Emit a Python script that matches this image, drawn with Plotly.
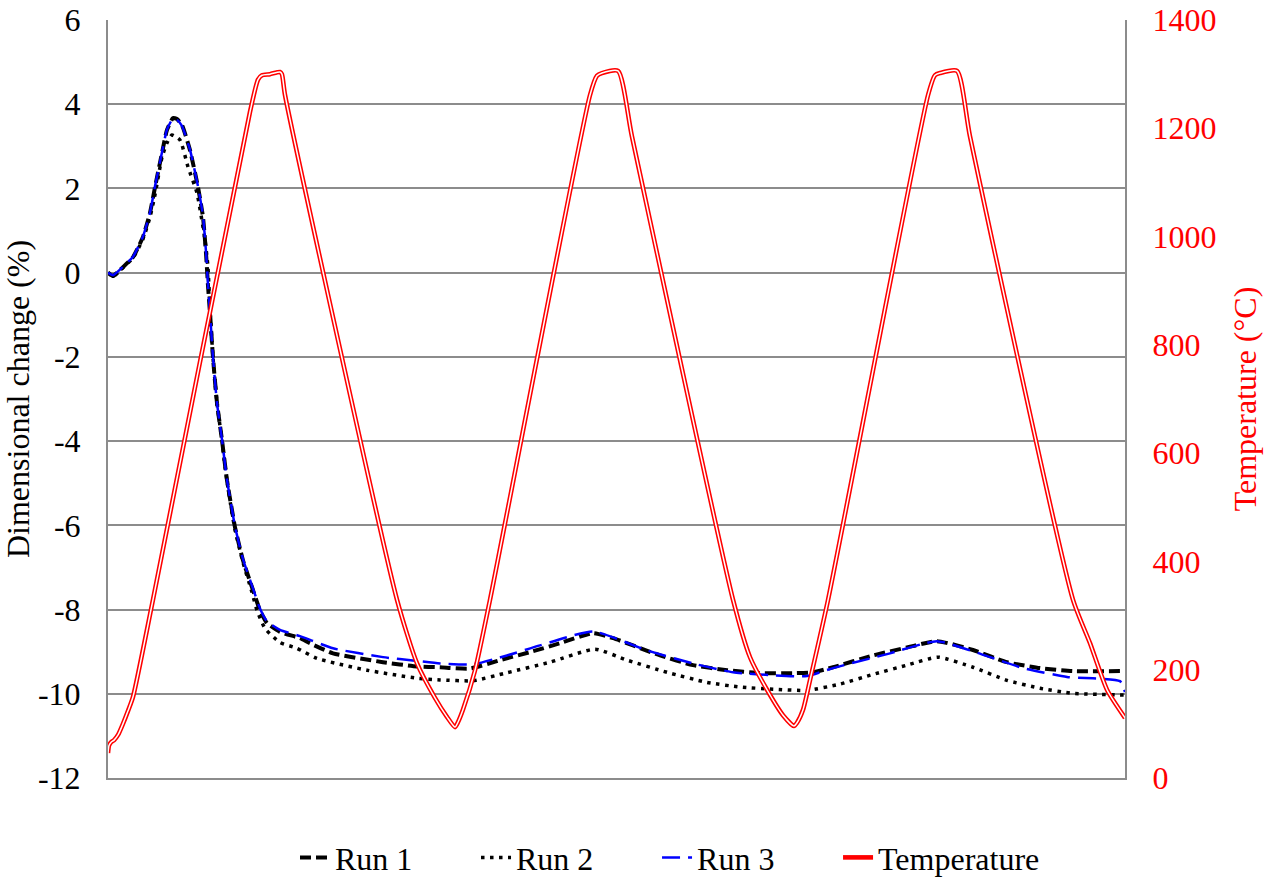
import plotly.graph_objects as go

# ---------------- data ----------------
run1_t = [0.0, 0.49, 0.98, 1.47, 2.46, 3.44, 4.13, 4.62, 5.31, 5.80, 6.39, 6.78, 7.28, 8.06, 8.85, 9.34, 9.64, 9.83,
          10.03, 10.32, 10.72, 11.21, 11.70, 12.19, 12.49, 13.27, 14.16, 14.95, 15.63, 16.91, 18.88, 19.86, 22.12,
          27.04, 30.38, 32.65, 35.60, 38.55, 41.50, 44.44, 47.69, 49.66, 51.62, 54.28, 57.52, 60.87, 64.11, 67.35,
          69.32, 71.29, 75.22, 78.56, 81.51, 85.05, 88.40, 91.64, 94.89, 100.0]
run1_v = [0.0, -0.08, 0.02, 0.13, 0.37, 0.85, 1.42, 2.03, 2.84, 3.39, 3.67, 3.65, 3.50, 2.91, 2.03, 1.32, 0.45, -0.30,
          -0.96, -2.0, -3.1, -3.98, -4.93, -5.64, -6.05, -6.83, -7.47, -8.02, -8.32, -8.53, -8.68, -8.80, -9.04,
          -9.25, -9.35, -9.37, -9.40, -9.20, -9.01, -8.80, -8.56, -8.68, -8.85, -9.09, -9.32, -9.44, -9.51, -9.51,
          -9.49, -9.37, -9.09, -8.90, -8.75, -8.96, -9.25, -9.39, -9.46, -9.46]

run2_t = [0.0, 0.49, 0.98, 1.47, 2.46, 3.44, 4.13, 4.62, 5.31, 5.80, 6.29, 7.08, 7.87, 8.75, 9.54, 9.83, 10.03,
          10.32, 10.72, 11.21, 11.70, 12.19, 12.49, 13.27, 14.16, 14.65, 15.44, 16.91, 18.58, 20.55, 25.47, 30.38,
          32.65, 35.89, 39.23, 43.46, 47.89, 51.03, 54.97, 58.90, 62.14, 65.39, 68.73, 71.98, 75.22, 78.56, 81.61,
          85.05, 88.40, 91.64, 94.89, 100.0]
run2_v = [0.0, -0.09, 0.0, 0.12, 0.35, 0.80, 1.32, 1.85, 2.74, 3.08, 3.27, 3.15, 2.51, 1.89, 0.77, 0.13, -0.90,
          -2.0, -3.1, -4.0, -4.95, -5.70, -6.10, -6.88, -7.59, -8.02, -8.45, -8.78, -8.92, -9.16, -9.44, -9.63,
          -9.67, -9.69, -9.50, -9.25, -8.94, -9.20, -9.49, -9.73, -9.84, -9.89, -9.92, -9.77, -9.54, -9.32, -9.13,
          -9.37, -9.68, -9.87, -9.99, -10.03]

run3_t = [0.0, 0.49, 0.98, 1.47, 2.46, 3.44, 4.13, 4.62, 5.31, 5.80, 6.39, 6.78, 7.28, 8.06, 8.85, 9.34, 9.64, 9.83,
          10.03, 10.32, 10.72, 11.21, 11.70, 12.19, 12.49, 13.27, 14.16, 14.95, 15.63, 16.91, 18.88, 22.12, 27.04,
          30.38, 32.65, 35.89, 39.23, 42.48, 47.69, 53.0, 57.52, 61.46, 65.39, 68.73, 71.29, 76.89, 81.51, 86.73,
          89.97, 94.30, 99.51, 100.0]
run3_v = [0.0, -0.06, 0.03, 0.14, 0.38, 0.86, 1.43, 2.05, 2.86, 3.40, 3.66, 3.63, 3.48, 2.92, 2.05, 1.35, 0.48, -0.28,
          -0.95, -2.0, -3.1, -3.97, -4.92, -5.62, -6.03, -6.80, -7.43, -7.98, -8.28, -8.48, -8.63, -8.92, -9.13,
          -9.22, -9.28, -9.30, -9.09, -8.85, -8.52, -8.97, -9.28, -9.49, -9.56, -9.58, -9.39, -9.04, -8.75, -9.13,
          -9.39, -9.60, -9.70, -9.96]

temp_t = [0.0, 0.1, 0.3, 0.6, 1.0, 1.47, 1.97, 2.46, 4.42, 13.96, 14.75, 15.14, 15.93, 16.91, 17.1, 17.4, 28.42,
          30.38, 32.15, 33.33, 34.12, 34.41, 34.9, 36.09, 37.56, 47.39, 48.08, 48.57, 50.15, 51.52, 61.46,
          63.13, 64.8, 66.37, 67.45, 67.75, 68.34, 69.03, 70.8, 80.63, 81.32, 81.81, 83.48, 84.76, 94.89,
          96.56, 98.23, 100.0]
temp_c = [46, 60, 66, 70, 80, 100, 124, 150, 329, 1230, 1290, 1298, 1300, 1304, 1300, 1262, 329,
          212, 148, 113, 94, 103, 126, 199, 329, 1261, 1297, 1302, 1306, 1185, 329,
          223, 163, 116, 96, 102, 126, 181, 329, 1261, 1298, 1302, 1306, 1185, 329,
          249, 163, 111]

series_names = ["Run 1", "Run 2", "Run 3", "Temperature"]
left_ticks = [-12, -10, -8, -6, -4, -2, 0, 2, 4, 6]
right_ticks = [0, 200, 400, 600, 800, 1000, 1200, 1400]

FONT = "Liberation Serif, Times New Roman, serif"
FS = 32
GRID = "#8c8c8c"
PAD = "\u00a0" * 7 + "\u200a"

fig = go.Figure()
fig.add_trace(go.Scatter(x=run1_t, y=run1_v, mode="lines", name=series_names[0] + PAD,
                         line=dict(color="black", width=4, dash="11px,5px", shape="spline", smoothing=0.5)))
fig.add_trace(go.Scatter(x=run2_t, y=run2_v, mode="lines", name=series_names[1] + PAD,
                         line=dict(color="black", width=3.5, dash="3.5px,5.5px", shape="spline", smoothing=0.5)))
fig.add_trace(go.Scatter(x=run3_t, y=run3_v, mode="lines", name=series_names[2] + PAD,
                         line=dict(color="#0000ff", width=2.5, dash="18px,8px", shape="spline", smoothing=0.5)))
fig.add_trace(go.Scatter(x=temp_t, y=temp_c, mode="lines", name=series_names[3], yaxis="y2",
                         line=dict(color="#ff0000", width=4.6, shape="spline", smoothing=0.6)))
fig.add_trace(go.Scatter(x=temp_t, y=temp_c, mode="lines", name=series_names[3], yaxis="y2",
                         showlegend=False,
                         line=dict(color="white", width=1.5, shape="spline", smoothing=0.6)))

fig.update_layout(
    width=1278, height=879,
    margin=dict(l=108, r=153, t=20, b=101, autoexpand=False),
    paper_bgcolor="white", plot_bgcolor="white",
    font=dict(family=FONT, size=FS, color="black"),
    showlegend=True,
    legend=dict(orientation="h", x=(295 - 108) / 1017, xanchor="left", y=-0.105, yanchor="middle",
                font=dict(family=FONT, size=FS, color="black"), bgcolor="rgba(0,0,0,0)"),
    xaxis=dict(range=[0, 100], showticklabels=False, ticks="", showgrid=False, zeroline=False,
               showline=True, linecolor=GRID, linewidth=2, automargin=False),
    yaxis=dict(range=[-12, 6], tickvals=left_ticks, ticktext=[str(v) for v in left_ticks],
               showgrid=True, gridcolor=GRID, gridwidth=2, zeroline=False, automargin=False,
               showline=True, linecolor=GRID, linewidth=2, ticks="", ticklabelstandoff=19,
               tickfont=dict(family=FONT, size=FS, color="black"),
               title=dict(text="Dimensional change (%)", standoff=2,
                          font=dict(family=FONT, size=FS, color="black"))),
    yaxis2=dict(range=[0, 1400], tickvals=right_ticks, ticktext=[str(v) for v in right_ticks],
                overlaying="y", side="right", showgrid=False, zeroline=False, automargin=False,
                showline=True, linecolor=GRID, linewidth=2, ticks="", ticklabelstandoff=19,
                tickfont=dict(family=FONT, size=FS, color="#ff0000"),
                title=dict(text="Temperature (°C)", standoff=18,
                           font=dict(family=FONT, size=FS, color="#ff0000"))),
)

fig.write_html("out.html")
